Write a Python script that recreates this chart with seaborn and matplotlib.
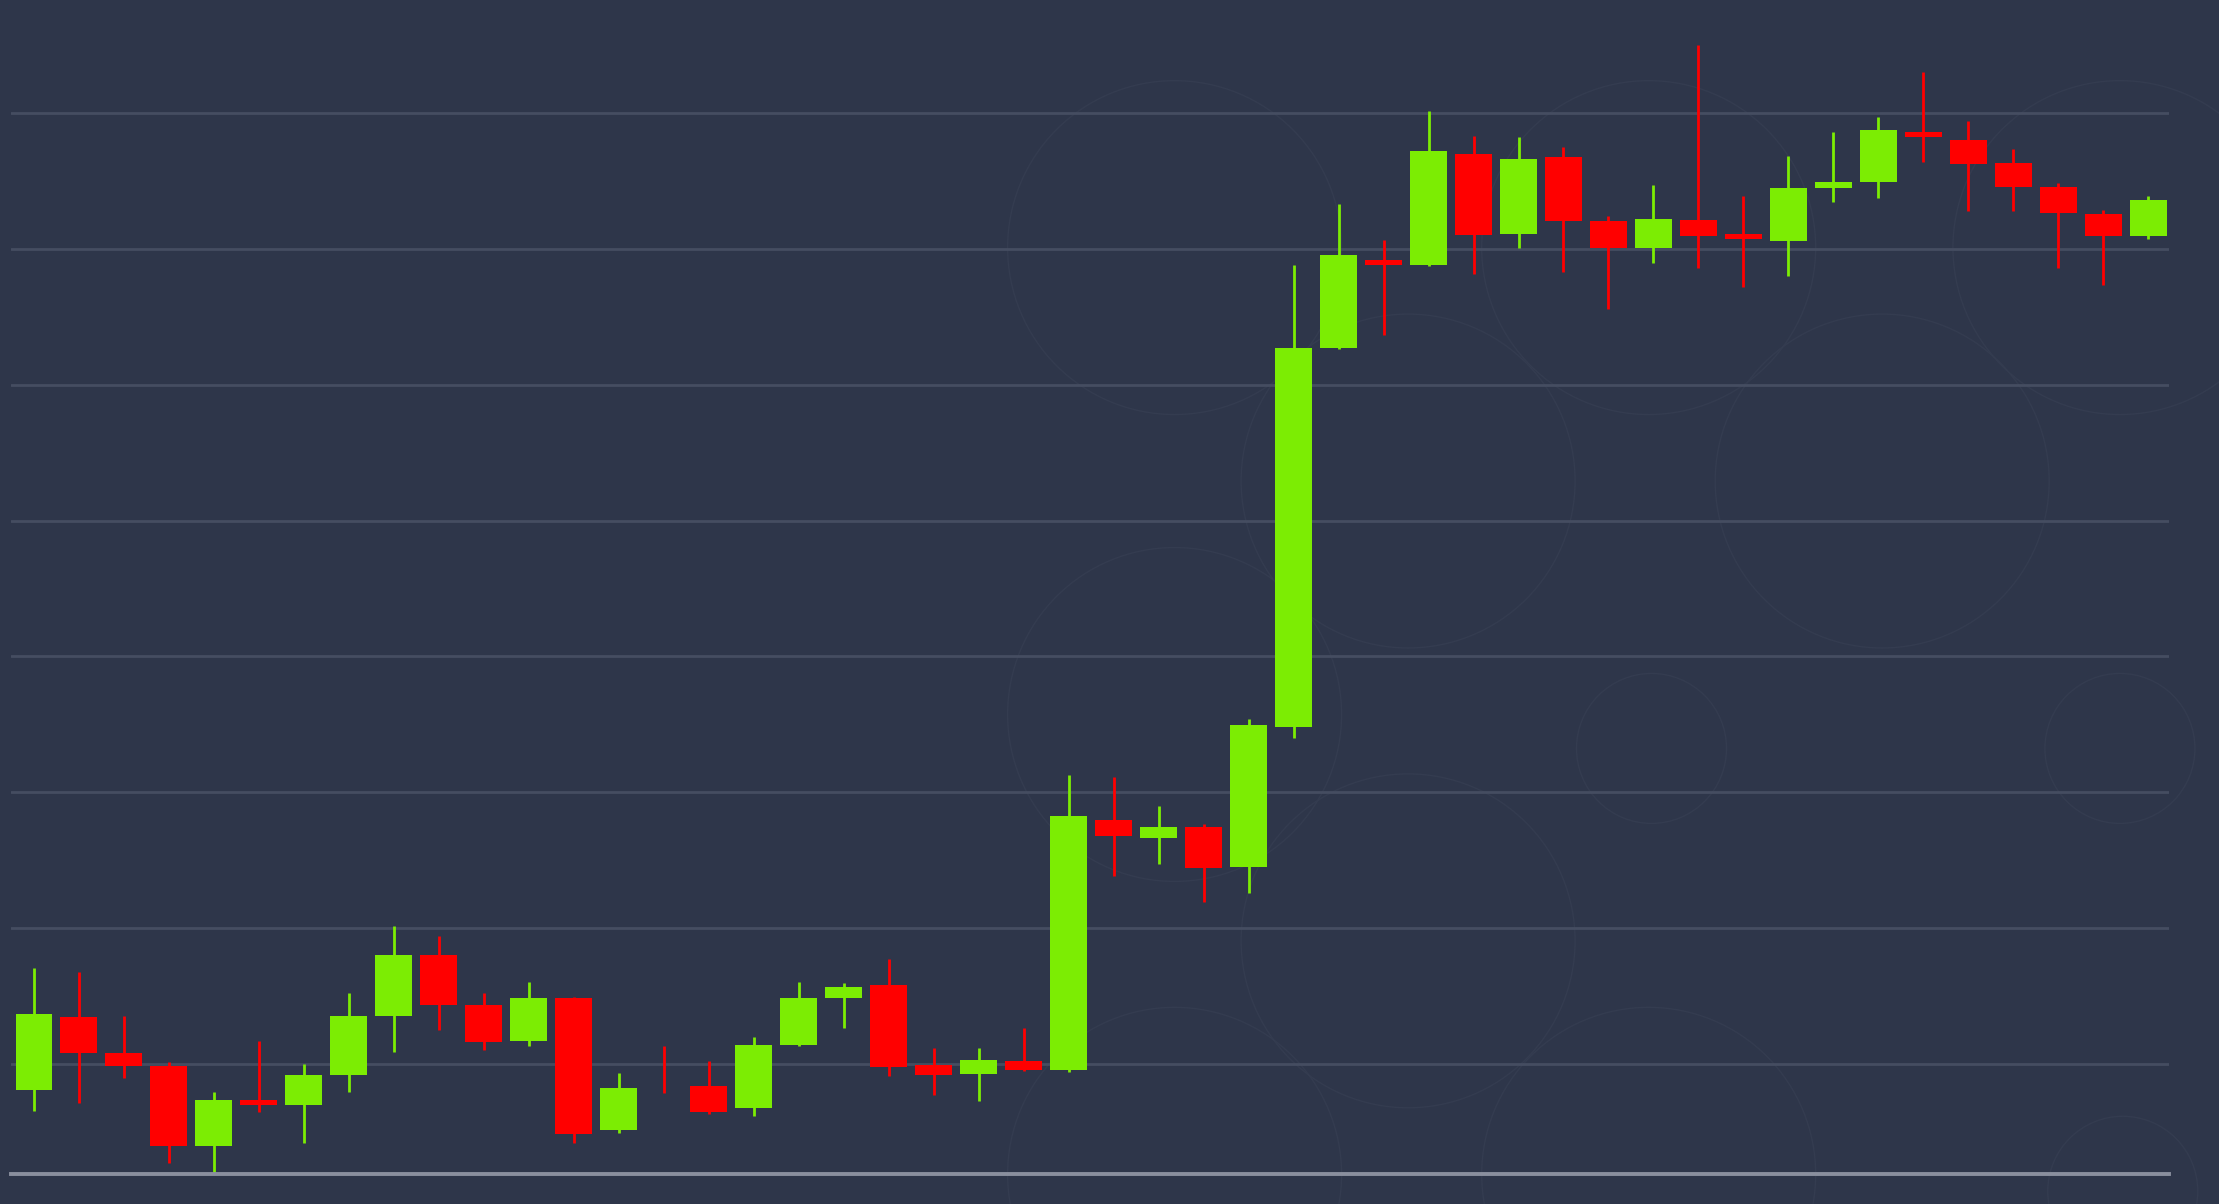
import matplotlib
matplotlib.use('Agg')
import matplotlib.pyplot as plt
from matplotlib.patches import Ellipse
import pandas as pd
import seaborn as sns

# velas (precio en unidades arbitrarias)
apertura = [6581.0, 6634.7, 6607.9, 6598.2, 6539.9, 6573.6, 6569.7, 6591.7, 6635.0, 6680.0,
            6643.5, 6617.0, 6648.8, 6551.5, 6595.8, 6583.4, 6567.5, 6613.8, 6648.5, 6657.9,
            6599.0, 6592.6, 6602.1, 6595.3, 6779.8, 6766.1, 6774.7, 6745.2, 6848.3, 7126.8,
            7191.7, 7188.4, 7270.1, 7211.0, 7267.6, 7220.8, 7200.7, 7221.6, 7211.0, 7205.6,
            7244.6, 7249.1, 7285.8, 7280.4, 7263.4, 7245.6, 7225.7, 7209.8]
maximo = [6670.4, 6668.0, 6635.4, 6601.3, 6579.2, 6617.0, 6600.2, 6652.0, 6701.3, 6694.4,
          6652.0, 6660.1, 6649.3, 6593.3, 6613.0, 6602.2, 6620.0, 6660.6, 6659.6, 6677.6,
          6611.4, 6611.4, 6626.4, 6812.9, 6811.6, 6789.7, 6776.7, 6853.8, 7187.9, 7232.8,
          7206.8, 7301.7, 7283.3, 7282.1, 7274.8, 7224.1, 7247.3, 7350.2, 7238.8, 7268.1,
          7286.0, 7297.1, 7330.6, 7294.4, 7273.5, 7248.5, 7228.5, 7238.8]
minimo = [6565.7, 6571.1, 6589.6, 6526.8, 6518.2, 6564.6, 6541.9, 6579.6, 6609.1, 6625.1,
          6610.6, 6613.5, 6541.7, 6549.0, 6578.5, 6563.0, 6561.8, 6613.0, 6626.6, 6591.4,
          6576.8, 6572.4, 6594.6, 6593.8, 6738.4, 6747.2, 6719.4, 6725.6, 6839.8, 7126.0,
          7136.9, 7187.5, 7181.7, 7200.7, 7182.8, 7156.1, 7189.7, 7185.7, 7172.1, 7180.4,
          7234.6, 7237.5, 7263.8, 7227.7, 7227.7, 7185.7, 7173.3, 7207.4]
cierre = [6636.5, 6608.1, 6598.8, 6539.9, 6573.6, 6569.7, 6591.9, 6635.2, 6680.0, 6643.1,
          6616.5, 6648.5, 6548.2, 6582.3, 6595.8, 6564.5, 6614.3, 6648.5, 6656.7, 6597.5,
          6592.1, 6602.9, 6595.3, 6782.3, 6767.6, 6774.7, 6744.1, 6849.5, 7126.8, 7195.5,
          7188.5, 7271.9, 7210.5, 7266.1, 7220.3, 7200.7, 7222.3, 7209.8, 7207.4, 7244.6,
          7249.1, 7287.3, 7282.1, 7262.7, 7245.3, 7226.5, 7209.8, 7236.0]

niveles = [6600, 6700, 6800, 6900, 7000, 7100, 7200, 7300]
rango_y = (6518.75, 7383.3)

FONDO = '#2e364a'
VERDE = '#7ced03'
ROJO = '#ff0000'

df = pd.DataFrame({'open': apertura, 'high': maximo, 'low': minimo, 'close': cierre})
df['idx'] = range(len(df))
df['color'] = [VERDE if c > o else ROJO for o, c in zip(df['open'], df['close'])]

sns.set_theme(style='dark', rc={'axes.facecolor': 'none', 'figure.facecolor': FONDO})

fig = plt.figure(figsize=(22.19, 12.04), dpi=100)
ax = fig.add_axes([8 / 1568, 21 / 851, 1525 / 1568, 830 / 851])

# circulos decorativos del fondo (muy tenues)
grandes = [(830, 175), (1165, 175), (1498, 175), (995, 340), (1330, 340),
           (830, 505), (995, 665), (830, 830), (1165, 830)]
chicos = [(1167, 529), (1498, 529), (1500, 842)]
for lista, r in ((grandes, 118), (chicos, 53)):
    for cx, cy in lista:
        fig.patches.append(Ellipse((cx / 1568, 1 - cy / 851), 2 * r / 1568, 2 * r / 851,
                                   transform=fig.transFigure, fill=False,
                                   edgecolor='#343c50', linewidth=1.0, zorder=-5))

ax.vlines(df['idx'], df['low'], df['high'], colors=df['color'], linewidth=2.0, zorder=2)
ax.bar(df['idx'], df['close'] - df['open'], bottom=df['open'], width=0.82,
       color=df['color'], linewidth=0, zorder=3)

ax.set_xlim(-0.503, len(df) - 1 + 0.47)
ax.set_ylim(*rango_y)
ax.set_yticks(niveles)
ax.set_xticks([])
ax.tick_params(left=False, bottom=False, labelleft=False, labelbottom=False)
ax.grid(axis='y', color='#454d61', linewidth=2.0, zorder=0)
ax.grid(axis='x', visible=False)
for lado in ('top', 'right', 'left'):
    ax.spines[lado].set_visible(False)
ax.spines['bottom'].set_color('#8a8f9e')
ax.spines['bottom'].set_linewidth(2.8)

fig.savefig('out.png', dpi=100, facecolor=FONDO)
plt.close()
